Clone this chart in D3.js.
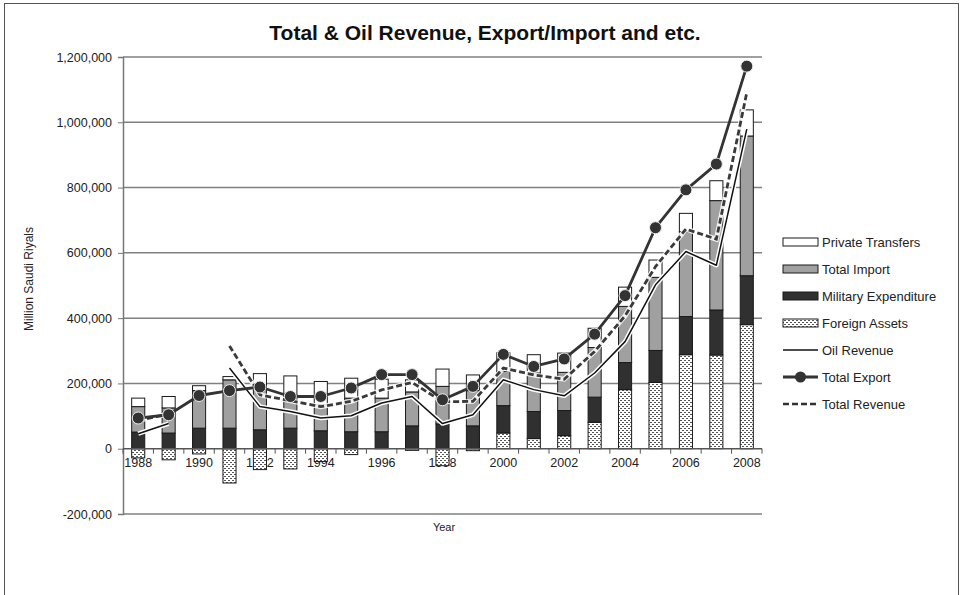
<!DOCTYPE html>
<html>
<head>
<meta charset="utf-8">
<script src="https://cdn.jsdelivr.net/npm/d3@7/dist/d3.min.js"></script>
<style>
  html, body { margin: 0; padding: 0; background: #fff; }
  svg { display: block; font-family: "Liberation Sans", Arial, sans-serif; }
</style>
</head>
<body>
<svg id="chart" width="964" height="595"></svg>
<script>
// Categories (years)
const years = ["1988","1989","1990","1991","1992","1993","1994","1995","1996","1997","1998",
               "1999","2000","2001","2002","2003","2004","2005","2006","2007","2008"];

// Stacked bar series, million Saudi riyals
const foreignAssets = [-28000,-34000,-16000,-105000,-64000,-62000,-39000,-18000,0,-5000,-52000,
                       -6000,48000,31000,40000,81000,181000,203000,288000,287000,380000];
const militaryExpenditure = [51000,48000,63000,63000,58000,63000,55000,52000,52000,70000,76000,
                             70000,84000,83000,77000,77000,83000,98000,117000,138000,150000];
const totalImport = [78000,77000,115000,148000,127000,102000,80000,103000,103000,104000,115000,
                     108000,105000,118000,117000,152000,172000,224000,260000,335000,428000];
const privateTransfers = [26000,35000,15000,10000,45000,58000,71000,61000,58000,37000,53000,
                          48000,57000,56000,59000,59000,59000,53000,56000,61000,80000];

// Line series, million Saudi riyals (null = no value)
const oilRevenue = [46000,77000,null,247000,129000,114000,94000,101000,140000,160000,77000,
                    104000,211000,181000,162000,232000,328000,502000,604000,562000,979000];
const totalExport = [94000,104000,163000,178000,189000,160000,160000,186000,227000,227000,150000,
                     191000,289000,252000,275000,351000,469000,677000,793000,872000,1172000];
const totalRevenue = [87000,106000,null,315000,165000,147000,129000,145000,180000,203000,144000,
                      145000,247000,226000,213000,298000,407000,558000,673000,642000,1091000];

// Axis ticks
const yTicks = [-200000,0,200000,400000,600000,800000,1000000,1200000];
const xTickLabels = ["1988","1990","1992","1994","1996","1998","2000","2002","2004","2006","2008"];

const svg = d3.select("#chart");
const plot = { left: 123, right: 762, top: 57, bottom: 514 };

const x = d3.scaleBand().domain(years).range([plot.left, plot.right]).padding(0);
const y = d3.scaleLinear().domain([-200000, 1200000]).range([plot.bottom, plot.top]);
const barW = x.bandwidth() * 0.43;
const cx = d => x(d) + x.bandwidth() / 2;
const fmt = d3.format(",");

// Dotted fill for foreign assets
const defs = svg.append("defs");
const pat = defs.append("pattern").attr("id", "dots")
  .attr("patternUnits", "userSpaceOnUse").attr("width", 4).attr("height", 4);
pat.append("rect").attr("width", 4).attr("height", 4).attr("fill", "#fff");
pat.append("rect").attr("x", 0).attr("y", 0).attr("width", 2).attr("height", 1).attr("fill", "#555");
pat.append("rect").attr("x", 2).attr("y", 2).attr("width", 2).attr("height", 1).attr("fill", "#555");

// Outer frame
svg.append("rect").attr("x", 4.5).attr("y", 3.5).attr("width", 954).attr("height", 592)
  .attr("fill", "none").attr("stroke", "#555").attr("stroke-width", 1);

// Title
svg.append("text").attr("x", 485).attr("y", 40).attr("text-anchor", "middle")
  .attr("font-size", 21).attr("font-weight", "bold").attr("fill", "#111")
  .text("Total & Oil Revenue, Export/Import and etc.");

// Gridlines
svg.append("g").selectAll("line").data(yTicks.filter(t => t !== 0)).join("line")
  .attr("x1", plot.left).attr("x2", plot.right)
  .attr("y1", d => y(d)).attr("y2", d => y(d))
  .attr("stroke", "#808080").attr("stroke-width", 1.5);

// Y axis
const yAxis = svg.append("g").attr("transform", `translate(${plot.left},0)`)
  .call(d3.axisLeft(y).tickValues(yTicks).tickSize(5).tickPadding(6)
    .tickFormat(d => fmt(d).replace("\u2212", "-")));
yAxis.select(".domain").attr("stroke", "#777").attr("stroke-width", 1.5);
yAxis.selectAll(".tick line").attr("stroke", "#777");
yAxis.selectAll(".tick text").attr("font-size", 12.5).attr("fill", "#222")
  .attr("font-family", "Liberation Sans, Arial, sans-serif");

svg.append("text").attr("transform", "translate(33,279) rotate(-90)")
  .attr("text-anchor", "middle").attr("font-size", 12).attr("fill", "#222")
  .text("Million Saudi Riyals");

// X axis along zero, labels every other year
const zeroY = y(0);
svg.append("g").selectAll("line").data(years.concat(["end"])).join("line")
  .attr("x1", (d, i) => plot.left + i * x.bandwidth())
  .attr("x2", (d, i) => plot.left + i * x.bandwidth())
  .attr("y1", zeroY).attr("y2", zeroY + 5)
  .attr("stroke", "#555").attr("stroke-width", 1);
svg.append("g").selectAll("text").data(xTickLabels).join("text")
  .attr("x", d => cx(d)).attr("y", zeroY + 18).attr("text-anchor", "middle")
  .attr("font-size", 12.5).attr("fill", "#222").text(d => d);

svg.append("text").attr("x", 444).attr("y", 531).attr("text-anchor", "middle")
  .attr("font-size", 11).attr("fill", "#222").text("Year");

// Stacked bars
const rows = years.map((yr, i) => ({
  year: yr,
  fa: foreignAssets[i],
  mil: militaryExpenditure[i],
  imp: totalImport[i],
  pt: privateTransfers[i]
}));
const keys = ["fa", "mil", "imp", "pt"];
const fills = { fa: "url(#dots)", mil: "#303030", imp: "#a0a0a0", pt: "#ffffff" };
const stacked = d3.stack().keys(keys).offset(d3.stackOffsetDiverging)(rows);

const barsG = svg.append("g");
stacked.forEach(layer => {
  barsG.append("g").selectAll("rect").data(layer.filter(d => d[1] !== d[0])).join("rect")
    .attr("x", d => cx(d.data.year) - barW / 2)
    .attr("width", barW)
    .attr("y", d => y(Math.max(d[0], d[1])))
    .attr("height", d => Math.abs(y(d[0]) - y(d[1])))
    .attr("fill", fills[layer.key])
    .attr("stroke", "#1a1a1a").attr("stroke-width", 1);
});

// Zero line on top of bars
svg.append("line").attr("x1", plot.left).attr("x2", plot.right)
  .attr("y1", zeroY).attr("y2", zeroY).attr("stroke", "#555").attr("stroke-width", 1.5);

// Lines
const lineGen = d3.line()
  .defined(d => d.v !== null)
  .x(d => cx(d.year)).y(d => y(d.v));
const pts = arr => years.map((yr, i) => ({ year: yr, v: arr[i] }));

// Oil revenue: thin black line with a white halo
svg.append("path").datum(pts(oilRevenue)).attr("d", lineGen)
  .attr("fill", "none").attr("stroke", "#fff").attr("stroke-width", 4.5).attr("stroke-linejoin", "round");
svg.append("path").datum(pts(oilRevenue)).attr("d", lineGen)
  .attr("fill", "none").attr("stroke", "#111").attr("stroke-width", 1.5).attr("stroke-linejoin", "round");

// Total revenue: dashed dark line with a white halo
svg.append("path").datum(pts(totalRevenue)).attr("d", lineGen)
  .attr("fill", "none").attr("stroke", "#fff").attr("stroke-width", 5).attr("stroke-opacity", 0.85);
svg.append("path").datum(pts(totalRevenue)).attr("d", lineGen)
  .attr("fill", "none").attr("stroke", "#3a3a3a").attr("stroke-width", 2.8)
  .attr("stroke-dasharray", "6,3");

// Total export: thick line with round markers
svg.append("path").datum(pts(totalExport)).attr("d", lineGen)
  .attr("fill", "none").attr("stroke", "#333").attr("stroke-width", 2.8).attr("stroke-linejoin", "round");
svg.append("g").selectAll("circle").data(pts(totalExport)).join("circle")
  .attr("cx", d => cx(d.year)).attr("cy", d => y(d.v)).attr("r", 6)
  .attr("fill", "#333").attr("stroke", "#eee").attr("stroke-width", 1);

// Legend
const legend = svg.append("g").attr("font-size", 13).attr("fill", "#222");
const legendItems = [
  { label: "Private Transfers", type: "rect", fill: "#fff" },
  { label: "Total Import", type: "rect", fill: "#a0a0a0" },
  { label: "Military Expenditure", type: "rect", fill: "#303030" },
  { label: "Foreign Assets", type: "rect", fill: "url(#dots)" },
  { label: "Oil Revenue", type: "oil" },
  { label: "Total Export", type: "export" },
  { label: "Total Revenue", type: "revenue" }
];
const legX = 783, legY0 = 242, legStep = 27;
legendItems.forEach((it, i) => {
  const yy = legY0 + i * legStep;
  const g = legend.append("g");
  if (it.type === "rect") {
    g.append("rect").attr("x", legX).attr("y", yy - 4).attr("width", 35).attr("height", 8)
      .attr("fill", it.fill).attr("stroke", "#1a1a1a").attr("stroke-width", 1);
  } else if (it.type === "oil") {
    g.append("line").attr("x1", legX).attr("x2", legX + 35).attr("y1", yy).attr("y2", yy)
      .attr("stroke", "#111").attr("stroke-width", 1.3);
  } else if (it.type === "export") {
    g.append("line").attr("x1", legX).attr("x2", legX + 35).attr("y1", yy).attr("y2", yy)
      .attr("stroke", "#333").attr("stroke-width", 2.8);
    g.append("circle").attr("cx", legX + 17.5).attr("cy", yy).attr("r", 5.5).attr("fill", "#333");
  } else {
    g.append("line").attr("x1", legX).attr("x2", legX + 35).attr("y1", yy).attr("y2", yy)
      .attr("stroke", "#333").attr("stroke-width", 2.5).attr("stroke-dasharray", "6,3");
  }
  g.append("text").attr("x", legX + 39).attr("y", yy + 4.5).text(it.label);
});
</script>
</body>
</html>
